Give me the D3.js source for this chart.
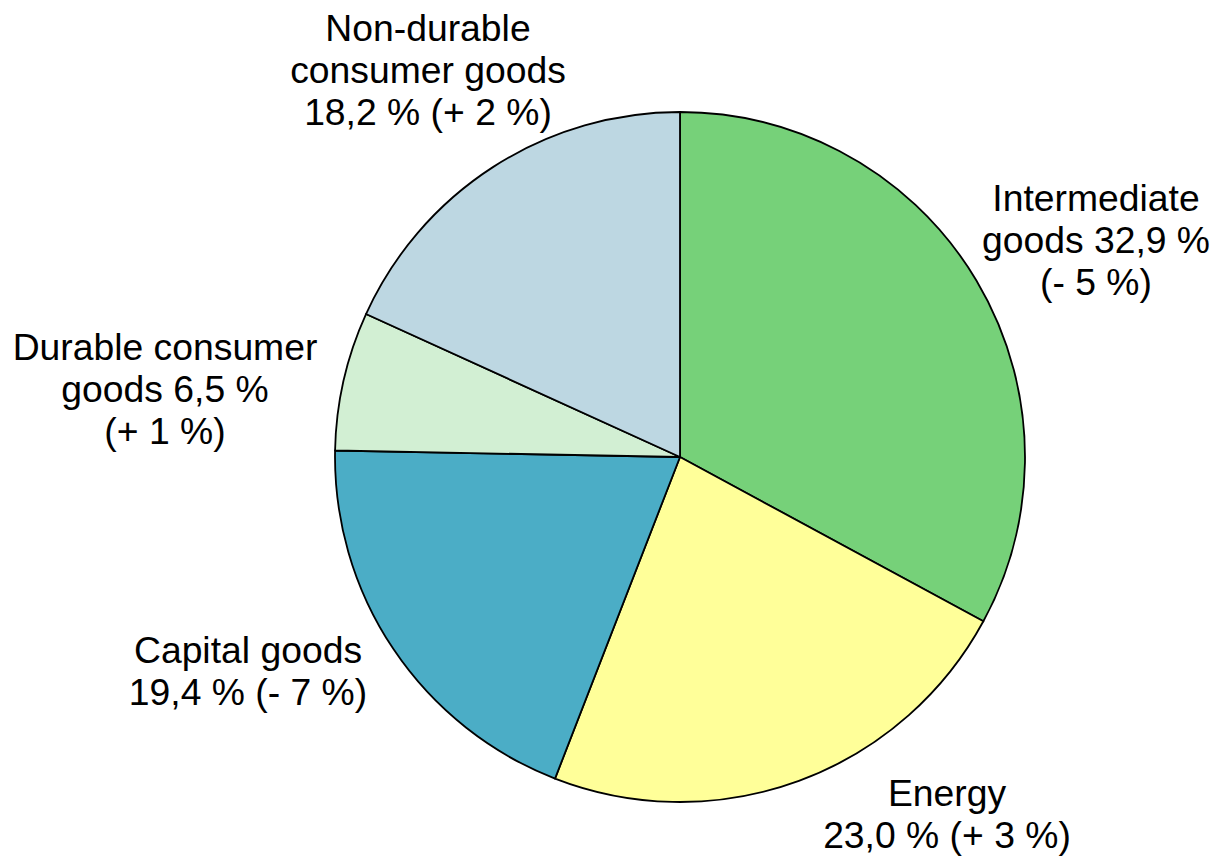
<!DOCTYPE html>
<html>
<head>
<meta charset="utf-8">
<script src="https://cdn.jsdelivr.net/npm/d3@7"></script>
<style>
body{margin:0;background:#fff;}
.lbl{font-family:"Liberation Sans",Arial,sans-serif;font-size:37.3px;fill:#000;}
</style>
</head>
<body>
<script>
// data
var categories = ['Intermediate goods','Energy','Capital goods','Durable consumer goods','Non-durable consumer goods'];
var shares = [32.9, 23.0, 19.4, 6.5, 18.2];
var changes = ['- 5 %','+ 3 %','- 7 %','+ 1 %','+ 2 %'];
var colors = ['#76d179','#ffff99','#4badc6','#d2efd3','#bdd7e2'];
var labelLines = [
	['Intermediate','goods 32,9 %','(- 5 %)'],
	['Energy','23,0 % (+ 3 %)'],
	['Capital goods','19,4 % (- 7 %)'],
	['Durable consumer','goods 6,5 %','(+ 1 %)'],
	['Non-durable','consumer goods','18,2 % (+ 2 %)']
];

var width = 1215, height = 858;
var cx = 680, cy = 457, radius = 345;
var lineH = 42;
// label anchor (center x, first baseline) for each slice
var labelPos = [[1096,211],[947,806],[248,663],[165,360],[428,41]];

var svg = d3.select('body').append('svg').attr('width',width).attr('height',height);
var g = svg.append('g').attr('transform','translate('+cx+','+cy+')');

var pieData = d3.pie().sort(null).value(function(d){return d;})(shares);
var arc = d3.arc().innerRadius(0).outerRadius(radius);

g.selectAll('path').data(pieData).enter()
	.append('path')
	.attr('d',arc)
	.attr('fill',function(d,i){return colors[i];})
	.attr('stroke','#000')
	.attr('stroke-width',1.8)
	.attr('stroke-linejoin','round');

var labels = svg.selectAll('text.lbl').data(labelLines).enter()
	.append('text')
	.attr('class','lbl')
	.attr('text-anchor','middle')
	.attr('x',function(d,i){return labelPos[i][0];})
	.attr('y',function(d,i){return labelPos[i][1];});

labels.each(function(lines,i){
	var t = d3.select(this);
	lines.forEach(function(l,j){
		t.append('tspan').attr('x',labelPos[i][0]).attr('dy',j==0?0:lineH).text(l);
	});
});
</script>
</body>
</html>
